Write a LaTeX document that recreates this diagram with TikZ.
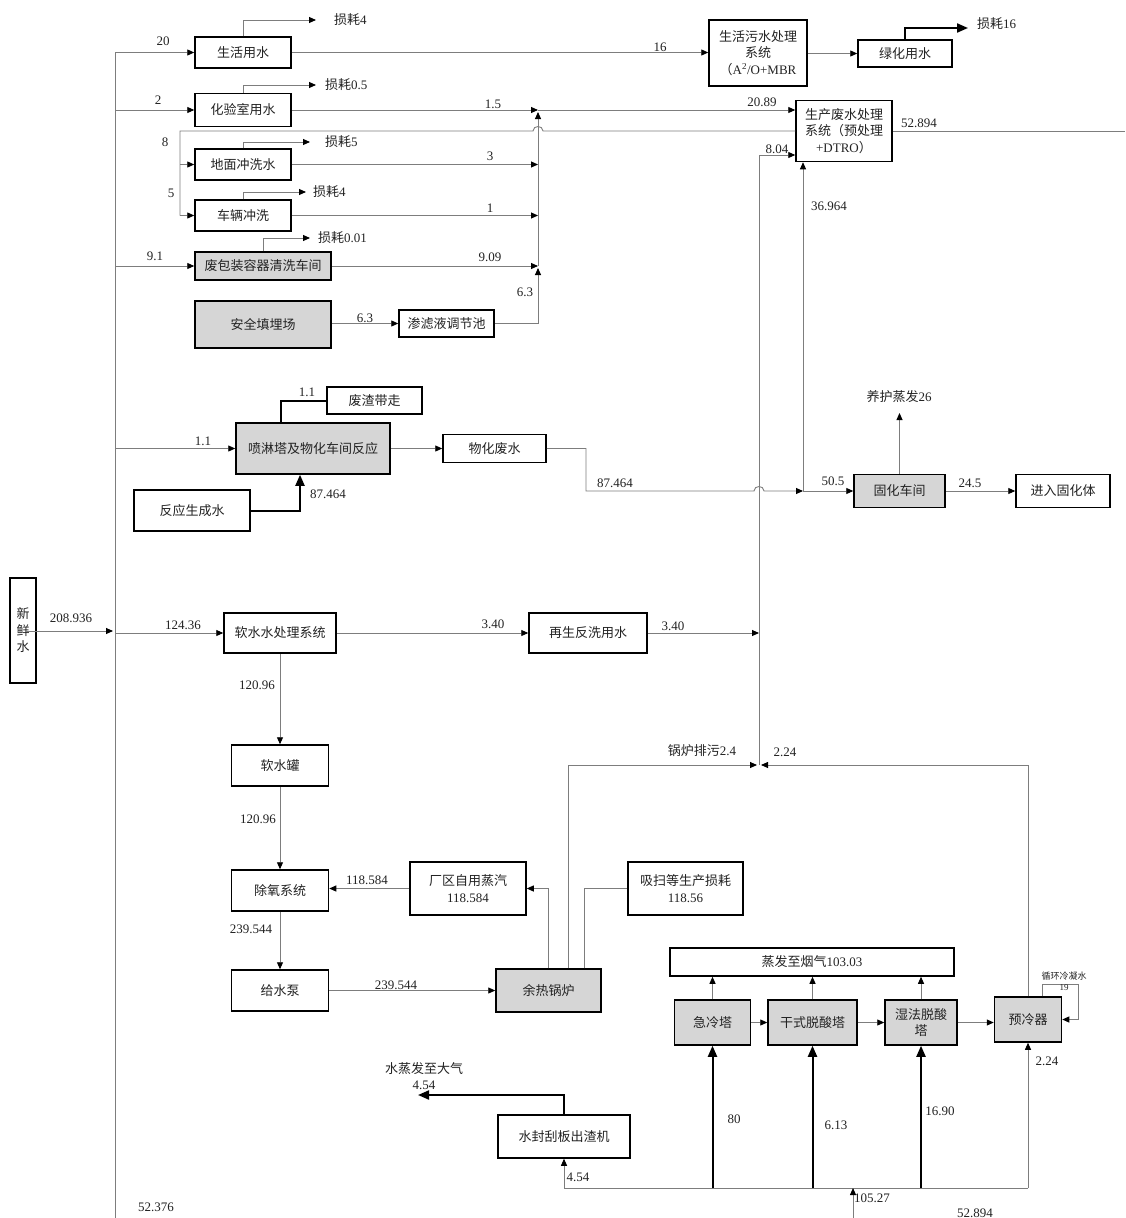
\documentclass[tikz,border=0pt]{standalone}
\usepackage{fontspec}
\setmainfont{Liberation Serif}
\newfontfamily\cjkf{Noto Sans CJK SC}
\newcommand\zh[1]{{\cjkf #1}}
\usetikzlibrary{arrows.meta}
\definecolor{ln}{RGB}{125,125,125}
\definecolor{gf}{RGB}{214,214,214}
\definecolor{tx}{RGB}{35,35,35}
\begin{document}
\begin{tikzpicture}[x=1pt,y=-1pt,
 box/.style={draw=black,line width=1.5pt,fill=white,inner sep=1pt,align=center,text=tx,font=\fontsize{13}{16.5}\selectfont},
 gbox/.style={box,fill=gf},
 conn/.style={draw=ln,line width=0.9pt},
 arr/.style={conn,-{Triangle[length=7pt,width=6pt,color=black]}},
 thk/.style={draw=black,line width=2pt},
 tarr/.style={thk,-{Triangle[length=11pt,width=9pt]}},
 lab/.style={inner sep=0pt,text=tx,font=\fontsize{13}{15}\selectfont},
 slab/.style={inner sep=0pt,text=tx,font=\fontsize{9}{10}\selectfont},
]
\useasboundingbox[fill=white] (0,0) rectangle (1125,1218);

% ---------- boxes ----------
\node[box,minimum width=26pt,minimum height=105pt] (fresh) at (23,630.5) {\zh{新}\\\zh{鲜}\\\zh{水}};
\node[box,minimum width=96pt,minimum height=31pt] (life) at (243,52.5) {\zh{生活用水}};
\node[box,minimum width=96pt,minimum height=33pt] (lab) at (243,110) {\zh{化验室用水}};
\node[box,minimum width=96pt,minimum height=31pt] (floor) at (243,164.5) {\zh{地面冲洗水}};
\node[box,minimum width=96pt,minimum height=31pt] (vehicle) at (243,215.5) {\zh{车辆冲洗}};
\node[gbox,minimum width=136pt,minimum height=28pt] (pack) at (263,266) {\zh{废包装容器清洗车间}};
\node[gbox,minimum width=136pt,minimum height=47pt] (landfill) at (263,324.5) {\zh{安全填埋场}};
\node[box,minimum width=95pt,minimum height=27pt] (leach) at (446.5,323.5) {\zh{渗滤液调节池}};
\node[box,minimum width=98pt,minimum height=66pt] (sewage) at (758,53) {\zh{生活污水处理}\\\zh{系统}\\\zh{（}A\textsuperscript{2}/O+MBR};
\node[box,minimum width=94pt,minimum height=27pt] (green) at (905,53.5) {\zh{绿化用水}};
\node[box,minimum width=96pt,minimum height=61pt] (prodww) at (844,131) {\zh{生产废水处理}\\\zh{系统（预处理}\\+DTRO\zh{）}};
\node[box,minimum width=95pt,minimum height=27pt] (slag) at (374.5,400.5) {\zh{废渣带走}};
\node[gbox,minimum width=154pt,minimum height=51pt] (spray) at (313,448.5) {\zh{喷淋塔及物化车间反应}};
\node[box,minimum width=103pt,minimum height=28pt] (physchem) at (494.5,448.5) {\zh{物化废水}};
\node[box,minimum width=116pt,minimum height=41pt] (reactw) at (192,510.5) {\zh{反应生成水}};
\node[gbox,minimum width=91pt,minimum height=33pt] (solid) at (899.5,491) {\zh{固化车间}};
\node[box,minimum width=94pt,minimum height=33pt] (solidbody) at (1063,491) {\zh{进入固化体}};
\node[box,minimum width=112pt,minimum height=40pt] (soft) at (280,633) {\zh{软水水处理系统}};
\node[box,minimum width=118pt,minimum height=40pt] (regen) at (588,633) {\zh{再生反洗用水}};
\node[box,minimum width=97pt,minimum height=41pt] (tank) at (280,765.5) {\zh{软水罐}};
\node[box,minimum width=97pt,minimum height=41pt] (deox) at (280,890.5) {\zh{除氧系统}};
\node[box,minimum width=97pt,minimum height=41pt] (pump) at (280,990.5) {\zh{给水泵}};
\node[box,minimum width=116pt,minimum height=53pt] (steam) at (468,888.5) {\zh{厂区自用蒸汽}\\118.584};
\node[box,minimum width=115pt,minimum height=53pt] (purge) at (685.5,888.5) {\zh{吸扫等生产损耗}\\118.56};
\node[gbox,minimum width=105pt,minimum height=43pt] (boiler) at (548.5,990.5) {\zh{余热锅炉}};
\node[box,minimum width=284pt,minimum height=28pt] (flue) at (812,962) {\zh{蒸发至烟气}103.03};
\node[gbox,minimum width=76pt,minimum height=45pt] (quench) at (712.5,1022.5) {\zh{急冷塔}};
\node[gbox,minimum width=89pt,minimum height=45pt] (dry) at (812.5,1022.5) {\zh{干式脱酸塔}};
\node[gbox,minimum width=72pt,minimum height=45pt] (wet) at (921,1022.5) {\zh{湿法脱酸}\\\zh{塔}};
\node[gbox,minimum width=67pt,minimum height=45pt] (precool) at (1028,1019.5) {\zh{预冷器}};
\node[box,minimum width=132pt,minimum height=43pt] (scraper) at (564,1136.5) {\zh{水封刮板出渣机}};

% ---------- coordinates ----------
\coordinate (fs) at (25,631);
\coordinate (mj) at (113,631);
\coordinate (mtop) at (115,52.5);
\coordinate (mbot) at (115,1218);
\coordinate (ca) at (538,110);
\coordinate (ca2) at (538,112);
\coordinate (cb) at (538,266);
\coordinate (cc) at (538,268);
\coordinate (ja1) at (543,131);
\coordinate (ja2) at (533,131);
\coordinate (rt) at (180,131);
\coordinate (redge) at (1125,131);
\coordinate (v1l) at (757,765);
\coordinate (v1r) at (761,765);
\coordinate (v1) at (759,765);
\coordinate (v2) at (759,155);
\coordinate (w1) at (803,491);
\coordinate (k1) at (586,448.5);
\coordinate (k2) at (586,491);
\coordinate (jb1) at (754,491);
\coordinate (jb2) at (764,491);
\coordinate (evap) at (899.5,413);
\coordinate (loss1) at (316,20);
\coordinate (loss2) at (316,85);
\coordinate (loss3) at (310,142);
\coordinate (loss4) at (306,192);
\coordinate (loss5) at (310,238);
\coordinate (loss6) at (968,28);
\coordinate (lp) at (1078,984);
\coordinate (bl) at (564,1188);
\coordinate (br) at (1028,1188);
\coordinate (inb) at (853,1218);
\coordinate (inbt) at (853,1188);
\coordinate (vap) at (418,1095);

% ---------- fresh water distribution ----------
\draw[arr] (fs) -- (mj);
\draw[conn] (mtop) -- (mbot);
\draw[arr] (mtop) -- (life.west);
\draw[arr] (lab.west -| mtop) -- (lab.west);
\draw[arr] (pack.west -| mtop) -- (pack.west);
\draw[arr] (spray.west -| mtop) -- (spray.west);
\draw[arr] (soft.west -| mtop) -- (soft.west);

% losses
\draw[arr] (life.north) |- (loss1);
\draw[arr] (lab.north) |- (loss2);
\draw[arr] (floor.north) |- (loss3);
\draw[arr] (vehicle.north) |- (loss4);
\draw[arr] (pack.north) |- (loss5);
\draw[tarr] (green.north) |- (loss6);

% domestic
\draw[arr] (life.east) -- (life.east -| sewage.west);
\draw[arr] (sewage.east |- green.west) -- (green.west);

% collector to production wastewater
\draw[arr] (lab.east) -- (ca);
\draw[arr] (ca) -- (ca -| prodww.west);
\draw[arr] (cb) -- (ca2);
\draw[arr] (floor.east) -- (floor.east -| ca);
\draw[arr] (vehicle.east) -- (vehicle.east -| ca);
\draw[arr] (pack.east) -- (cb);
\draw[arr] (landfill.east |- leach.west) -- (leach.west);
\draw[arr] (leach.east) -| (cc);

% reuse water line
\draw[conn] (prodww.west) -- (ja1) .. controls (543,125) and (533,125) .. (ja2) -- (rt) -- (rt |- vehicle.west);
\draw[arr] (rt |- floor.west) -- (floor.west);
\draw[arr] (rt |- vehicle.west) -- (vehicle.west);
\draw[conn] (prodww.east) -- (redge);

% 8.04 and 36.964
\draw[arr] (v1) -- (v2) -- (v2 -| prodww.west);
\draw[arr] (w1) -- (w1 |- prodww.south);

% physchem
\draw[arr] (spray.east) -- (physchem.west);
\draw[thk] ([xshift=-32pt]spray.north) |- (slag.west);
\draw[tarr] (reactw.east) -| ([xshift=-13pt]spray.south);
\draw[arr] (physchem.east) -- (k1) -- (k2) -- (jb1) .. controls (754,485) and (764,485) .. (jb2) -- (w1);
\draw[arr] (w1) -- (solid.west);
\draw[arr] (solid.north) -- (evap);
\draw[arr] (solid.east) -- (solidbody.west);

% soft water
\draw[arr] (soft.east) -- (regen.west);
\draw[arr] (regen.east) -- (regen.east -| v1);
\draw[arr] (soft.south) -- (tank.north);
\draw[arr] (tank.south) -- (deox.north);
\draw[arr] (deox.south) -- (pump.north);
\draw[arr] (pump.east) -- (boiler.west);
\draw[arr] (boiler.north) |- (steam.east);
\draw[arr] (steam.west) -- (steam.west -| deox.east);
\draw[arr] ([xshift=20pt]boiler.north) |- (v1l);
\draw[conn] ([xshift=36pt]boiler.north) |- (purge.west);
\draw[arr] (precool.north) |- (v1r);

% flue gas
\draw[arr] (quench.north) -- (quench.north |- flue.south);
\draw[arr] (dry.north) -- (dry.north |- flue.south);
\draw[arr] (wet.north) -- (wet.north |- flue.south);
\draw[arr] (quench.east) -- (dry.west);
\draw[arr] (dry.east) -- (wet.west);
\draw[arr] (wet.east) -- (wet.east -| precool.west);
\draw[arr] ([xshift=14pt]precool.north) |- (lp) |- (precool.east);

% bottom
\draw[conn] (bl) -- (br);
\draw[arr] (bl) -- (scraper.south);
\draw[tarr] (quench.south |- bl) -- (quench.south);
\draw[tarr] (dry.south |- bl) -- (dry.south);
\draw[tarr] (wet.south |- bl) -- (wet.south);
\draw[arr] (br) -- (precool.south);
\draw[arr] (inb) -- (inbt);
\draw[tarr] (scraper.north) |- (vap);

% ---------- labels ----------
\node[lab] at (71,618) {208.936};
\node[lab] at (163,41) {20};
\node[lab] at (158,100) {2};
\node[lab] at (165,142) {8};
\node[lab] at (171,193) {5};
\node[lab] at (155,256) {9.1};
\node[lab] at (203,441) {1.1};
\node[lab] at (183,625) {124.36};
\node[lab,anchor=west] at (334,20) {\zh{损耗}4};
\node[lab,anchor=west] at (325,85) {\zh{损耗}0.5};
\node[lab,anchor=west] at (325,142) {\zh{损耗}5};
\node[lab,anchor=west] at (313,192) {\zh{损耗}4};
\node[lab,anchor=west] at (318,238) {\zh{损耗}0.01};
\node[lab,anchor=west] at (977,24) {\zh{损耗}16};
\node[lab] at (660,47) {16};
\node[lab] at (493,104) {1.5};
\node[lab] at (762,102) {20.89};
\node[lab] at (490,156) {3};
\node[lab] at (490,208) {1};
\node[lab] at (490,257) {9.09};
\node[lab] at (365,318) {6.3};
\node[lab] at (525,292) {6.3};
\node[lab] at (919,123) {52.894};
\node[lab] at (777,149) {8.04};
\node[lab] at (829,206) {36.964};
\node[lab] at (307,392) {1.1};
\node[lab] at (328,494) {87.464};
\node[lab] at (615,483) {87.464};
\node[lab] at (833,481) {50.5};
\node[lab] at (899,397) {\zh{养护蒸发}26};
\node[lab] at (970,483) {24.5};
\node[lab] at (493,624) {3.40};
\node[lab] at (673,626) {3.40};
\node[lab] at (257,685) {120.96};
\node[lab] at (258,819) {120.96};
\node[lab] at (251,929) {239.544};
\node[lab] at (396,985) {239.544};
\node[lab] at (367,880) {118.584};
\node[lab] at (702,751) {\zh{锅炉排污}2.4};
\node[lab] at (785,752) {2.24};
\node[slab] at (1064,976) {\zh{循环冷凝水}};
\node[slab] at (1064,988) {19};
\node[lab] at (1047,1061) {2.24};
\node[lab] at (734,1119) {80};
\node[lab] at (836,1125) {6.13};
\node[lab] at (940,1111) {16.90};
\node[lab] at (424,1069) {\zh{水蒸发至大气}};
\node[lab] at (424,1085) {4.54};
\node[lab] at (578,1177) {4.54};
\node[lab] at (872,1198) {105.27};
\node[lab] at (975,1213) {52.894};
\node[lab] at (156,1207) {52.376};
\end{tikzpicture}
\end{document}
